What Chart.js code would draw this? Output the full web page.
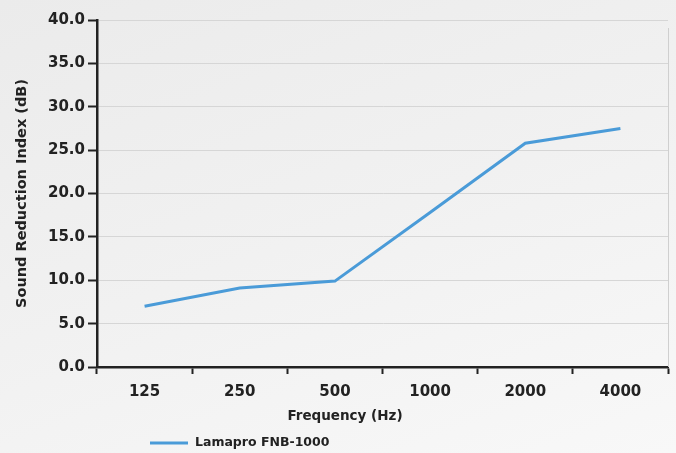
<!DOCTYPE html>
<html>
<head>
<meta charset="utf-8">
<script src="https://cdn.jsdelivr.net/npm/chart.js@4.4.0/dist/chart.umd.min.js"></script>
<style>
  html, body { margin: 0; padding: 0; }
  body { width: 676px; height: 453px; background: linear-gradient(160deg, #ebebeb 0%, #f1f1f1 50%, #f8f8f8 100%); }
  #wrap { width: 676px; height: 453px; position: relative; }
</style>
</head>
<body>
<div id="wrap"><canvas id="c" width="676" height="453"></canvas></div>
<script>
const categories = ['125', '250', '500', '1000', '2000', '4000'];
const seriesName = 'Lamapro FNB-1000';
const seriesValues = [7.0, 9.1, 9.9, 17.8, 25.8, 27.5];
const yTitle = 'Sound Reduction Index (dB)';
const xTitle = 'Frequency (Hz)';

const FONT = 'DejaVu Sans';
const INK = '#222222';
const LINE = '#4a9bd8';

const extras = {
  id: 'extras',
  afterDraw(chart) {
    const ctx = chart.ctx;
    const a = chart.chartArea;
    ctx.save();
    // faint right border
    ctx.strokeStyle = '#cfcfcf';
    ctx.lineWidth = 1;
    ctx.beginPath();
    ctx.moveTo(a.right + 0.5, a.top + 8);
    ctx.lineTo(a.right + 0.5, a.bottom);
    ctx.stroke();
    // x title
    ctx.fillStyle = INK;
    ctx.font = 'bold 13.5px "' + FONT + '"';
    ctx.textAlign = 'center';
    ctx.textBaseline = 'middle';
    ctx.fillText(xTitle, 345, 416);
    // legend
    const ds = chart.data.datasets[0];
    ctx.strokeStyle = ds.borderColor;
    ctx.lineWidth = 3;
    ctx.beginPath();
    ctx.moveTo(150, 443);
    ctx.lineTo(188, 443);
    ctx.stroke();
    ctx.font = 'bold 12.5px "' + FONT + '"';
    ctx.textAlign = 'left';
    ctx.fillText(ds.label, 195, 443);
    ctx.restore();
  }
};

new Chart(document.getElementById('c'), {
  type: 'line',
  data: {
    labels: categories,
    datasets: [{
      label: seriesName,
      data: seriesValues,
      borderColor: LINE,
      backgroundColor: LINE,
      borderWidth: 3,
      pointRadius: 0,
      tension: 0
    }]
  },
  options: {
    responsive: false,
    animation: false,
    devicePixelRatio: 1,
    layout: { padding: { left: 0, top: 20, right: 8, bottom: 0 } },
    plugins: { legend: { display: false }, tooltip: { enabled: false } },
    scales: {
      x: {
        offset: true,
        grid: { offset: true, drawOnChartArea: false, drawTicks: true, tickLength: 7, tickColor: INK, tickWidth: 2 },
        border: { color: INK, width: 2.5 },
        ticks: { color: INK, font: { family: FONT, size: 15, weight: 'bold' }, padding: 9, maxRotation: 0 },
        afterFit(s) { s.height = 86; }
      },
      y: {
        min: 0, max: 40,
        ticks: {
          stepSize: 5, color: INK, padding: 3,
          font: { family: FONT, size: 15, weight: 'bold' },
          callback: v => Number(v).toFixed(1)
        },
        grid: { color: '#d6d6d6', lineWidth: 1, tickColor: INK, tickLength: 9, tickWidth: 2 },
        border: { color: INK, width: 2.5 },
        title: { display: true, text: yTitle, color: INK, font: { family: FONT, size: 14.5, weight: 'bold' }, padding: { top: 14, bottom: 0 } },
        afterFit(s) { s.width = 97; }
      }
    }
  },
  plugins: [extras]
});
</script>
</body>
</html>
